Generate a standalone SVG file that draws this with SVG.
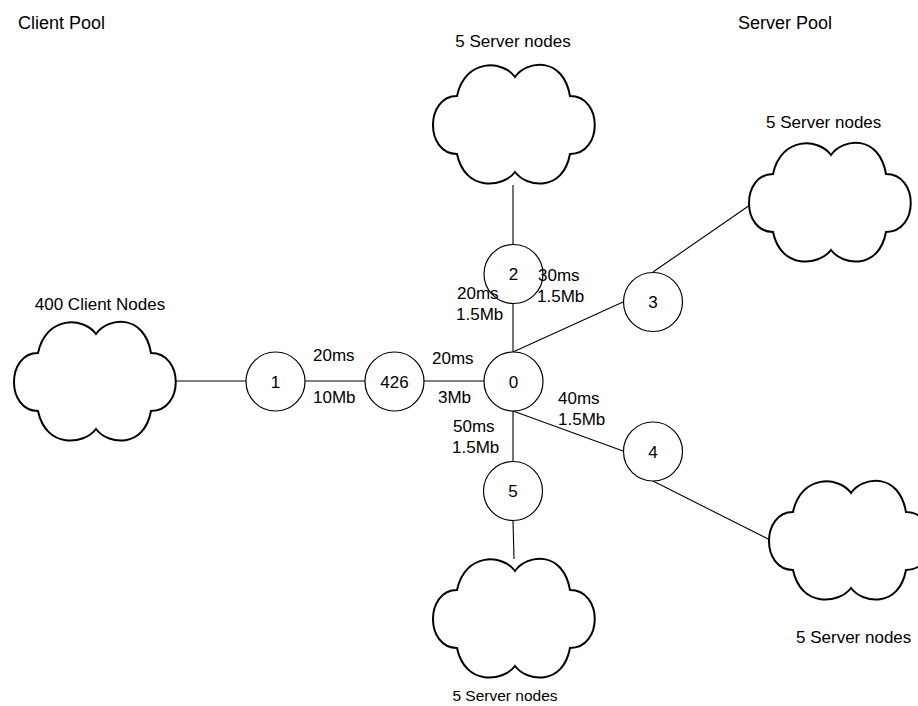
<svg xmlns="http://www.w3.org/2000/svg" xmlns:xlink="http://www.w3.org/1999/xlink" width="918" height="706" viewBox="0 0 918 706">
<style>
text{font-family:"Liberation Sans",Arial,sans-serif;fill:#000}
.t{font-size:17px}
.title{font-size:18px}
.c{text-anchor:middle}
.cloud{fill:#fff;stroke:#000;stroke-width:2}
.node{fill:#fff;stroke:#000;stroke-width:1.2}
.edge{stroke:#000;stroke-width:1.1;fill:none}
</style>
<defs>
<path id="cloud" class="cloud" d="M0,-47 C12,-64 48,-68 55,-28 C88,-28 88,30 55,30 C48,68 12,64 0,48 C-12,64 -50,68 -58,30 C-90,30 -90,-28 -58,-28 C-50,-66 -12,-64 0,-47 Z"/>
</defs>
<rect width="918" height="706" fill="#fff"/>
<text class="title" x="18" y="29">Client Pool</text>
<text class="title" x="738" y="29">Server Pool</text>
<g id="connectors">
<line class="edge" x1="176" y1="381" x2="246" y2="381"/>
<line class="edge" x1="305" y1="381" x2="365" y2="381"/>
<line class="edge" x1="424" y1="381" x2="484" y2="381"/>
<line class="edge" x1="513" y1="352" x2="513" y2="303"/>
<line class="edge" x1="513" y1="245" x2="513" y2="185"/>
<line class="edge" x1="513" y1="352" x2="623" y2="302"/>
<line class="edge" x1="653" y1="272" x2="750" y2="205"/>
<line class="edge" x1="513" y1="411" x2="623" y2="451"/>
<line class="edge" x1="653" y1="481" x2="770" y2="540"/>
<line class="edge" x1="513" y1="411" x2="513" y2="461"/>
<line class="edge" x1="513" y1="521" x2="514" y2="559"/>
</g>
<g id="cloud-top"><use xlink:href="#cloud" href="#cloud" x="515" y="124"/><text class="t c" x="513" y="47">5 Server nodes</text></g>
<g id="cloud-right-upper"><use xlink:href="#cloud" href="#cloud" x="831" y="202"/><text class="t" x="766" y="128">5 Server nodes</text></g>
<g id="cloud-client"><use xlink:href="#cloud" href="#cloud" x="96" y="381"/><text class="t c" x="100" y="310">400 Client Nodes</text></g>
<g id="cloud-bottom"><use xlink:href="#cloud" href="#cloud" x="515" y="618"/><text class="c" style="font-size:15.5px" x="505" y="701">5 Server nodes</text></g>
<g id="cloud-bottom-right"><use xlink:href="#cloud" href="#cloud" x="851" y="540"/><text class="t" x="796" y="643">5 Server nodes</text></g>
<g id="node-1"><circle class="node" cx="275.5" cy="381.5" r="29.5"/><text class="t c" x="275.5" y="388">1</text></g>
<g id="node-426"><circle class="node" cx="394.5" cy="381.5" r="29.5"/><text class="t c" x="394.5" y="388">426</text></g>
<g id="node-0"><circle class="node" cx="513.5" cy="381.5" r="29.5"/><text class="t c" x="513.5" y="388">0</text></g>
<g id="node-2"><circle class="node" cx="513.5" cy="274" r="29.5"/><text class="t c" x="513.5" y="280">2</text></g>
<g id="node-3"><circle class="node" cx="653" cy="302" r="29.5"/><text class="t c" x="653" y="308">3</text></g>
<g id="node-4"><circle class="node" cx="653" cy="451.5" r="29.5"/><text class="t c" x="653" y="458">4</text></g>
<g id="node-5"><circle class="node" cx="513" cy="491" r="29.5"/><text class="t c" x="513" y="497">5</text></g>
<g id="edge-labels">
<text class="t" x="313" y="361">20ms</text>
<text class="t" x="313" y="403">10Mb</text>
<text class="t" x="432" y="364">20ms</text>
<text class="t" x="438" y="403">3Mb</text>
<text class="t" x="457" y="299">20ms</text>
<text class="t" x="456" y="320">1.5Mb</text>
<text class="t" x="538" y="281">30ms</text>
<text class="t" x="537" y="302">1.5Mb</text>
<text class="t" x="558" y="404">40ms</text>
<text class="t" x="558" y="425">1.5Mb</text>
<text class="t" x="453" y="432">50ms</text>
<text class="t" x="452" y="453">1.5Mb</text>
</g>
</svg>
